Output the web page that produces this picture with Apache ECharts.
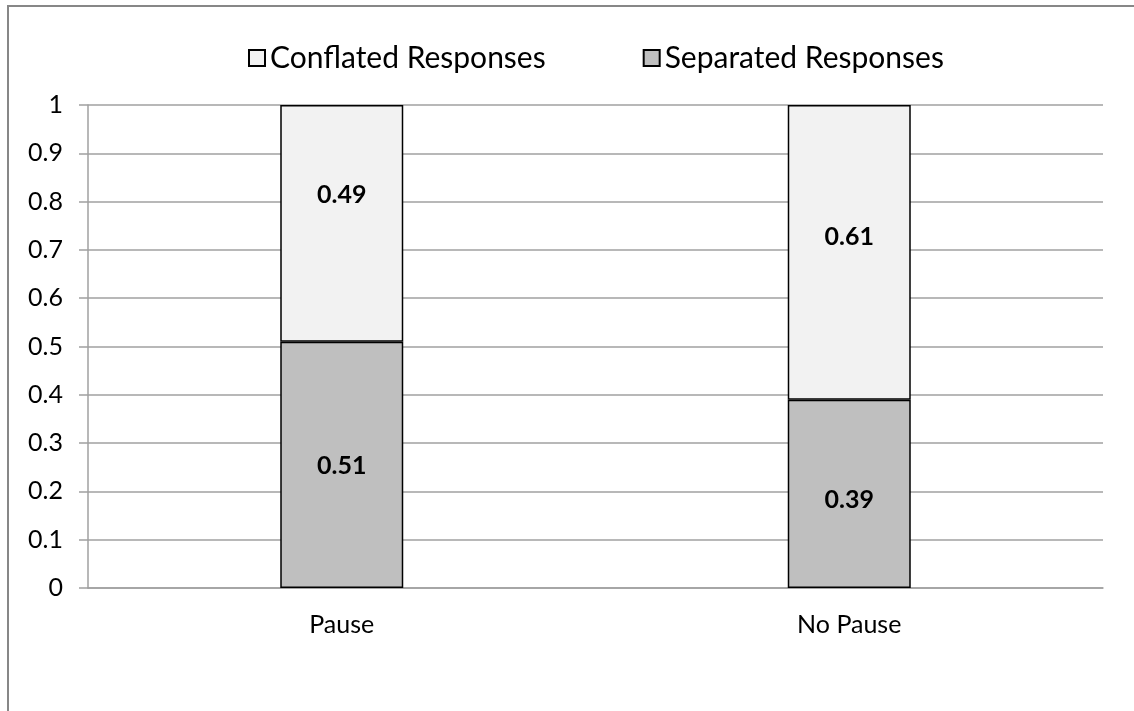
<!DOCTYPE html>
<html>
<head>
<meta charset="utf-8">
<script src="https://cdn.jsdelivr.net/npm/echarts@6/dist/echarts.min.js"></script>
<style>
  html, body { margin: 0; padding: 0; background: #fff; }
  #chart { width: 1134px; height: 711px; }
</style>
</head>
<body>
<div id="chart"></div>
<script>
// data
const categories = ['Pause', 'No Pause'];
const separated = [0.51, 0.39];
const conflated = [0.49, 0.61];
const seriesNames = ['Conflated Responses', 'Separated Responses'];

const font = 'Lato, "Open Sans", sans-serif';
const gridColor = '#a0a0a0';

// hand placed label nudges, like the original
const conflatedOffsets = [[0, -28], [0, -15]];
const separatedOffsets = [[0, 1], [0, 6]];

const chart = echarts.init(document.getElementById('chart'));

chart.setOption({
  animation: false,
  graphic: [{
    type: 'rect',
    shape: { x: 8, y: 6, width: 1200, height: 800 },
    style: { fill: 'none', stroke: '#878787', lineWidth: 2 },
    silent: true
  }],
  legend: {
    left: 243,
    top: 38,
    itemWidth: 16,
    itemHeight: 16,
    itemGap: 97,
    icon: 'rect',
    textStyle: { fontFamily: font, fontSize: 30, color: '#000' },
    data: seriesNames
  },
  grid: { left: 88, right: 31, top: 105, bottom: 123, containLabel: false },
  xAxis: {
    type: 'category',
    data: categories,
    axisLine: { lineStyle: { color: gridColor, width: 1.5 } },
    axisTick: { show: false },
    axisLabel: { fontFamily: font, fontSize: 25, color: '#000', margin: 24 }
  },
  yAxis: {
    type: 'value',
    min: 0,
    max: 1,
    interval: 0.1,
    axisLine: { show: true, lineStyle: { color: gridColor, width: 1.5 } },
    axisTick: { show: true, length: 9, lineStyle: { color: gridColor, width: 1.5 } },
    splitLine: { lineStyle: { color: gridColor, width: 1.5 } },
    axisLabel: {
      fontFamily: font, fontSize: 25, color: '#000', margin: 25,
      formatter: v => String(Math.round(v * 10) / 10)
    }
  },
  series: [
    {
      name: seriesNames[1],
      type: 'bar',
      stack: 'total',
      barWidth: 123,
      data: separated.map((v, i) => ({ value: v, label: { offset: separatedOffsets[i] } })),
      itemStyle: { color: '#bfbfbf', borderColor: '#000', borderWidth: 1.5 },
      label: {
        show: true, position: 'inside', fontFamily: font, fontWeight: 'bold',
        fontSize: 25, color: '#000', formatter: p => p.value.toFixed(2)
      }
    },
    {
      name: seriesNames[0],
      type: 'bar',
      stack: 'total',
      barWidth: 123,
      data: conflated.map((v, i) => ({ value: v, label: { offset: conflatedOffsets[i] } })),
      itemStyle: { color: '#f2f2f2', borderColor: '#000', borderWidth: 1.5 },
      label: {
        show: true, position: 'inside', fontFamily: font, fontWeight: 'bold',
        fontSize: 25, color: '#000', formatter: p => p.value.toFixed(2)
      }
    }
  ]
});
</script>
</body>
</html>
